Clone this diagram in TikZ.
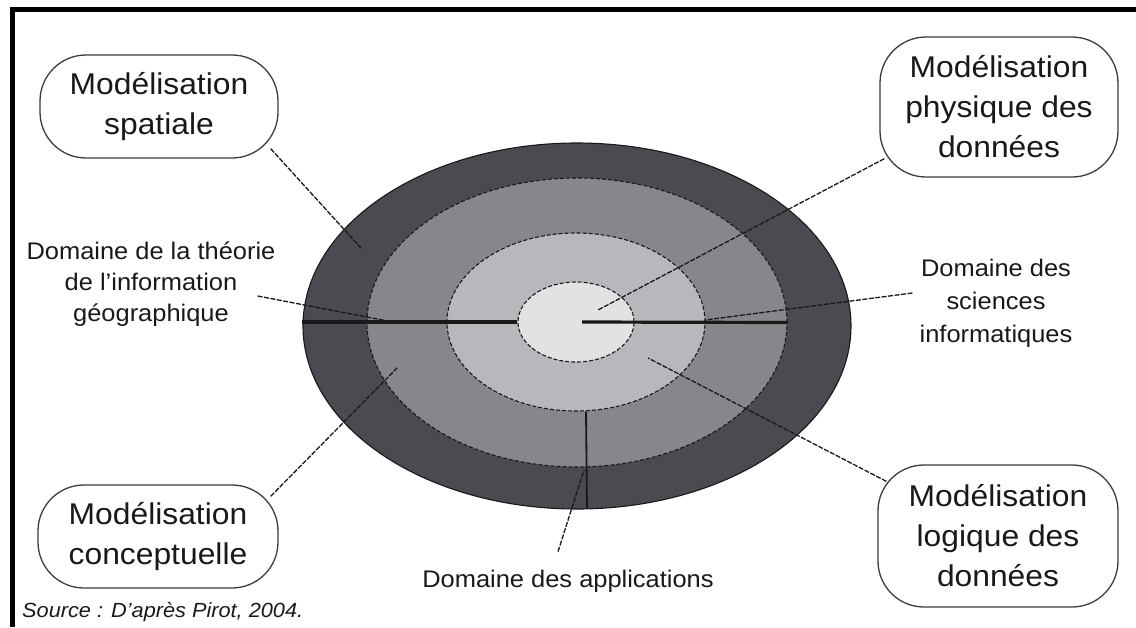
\documentclass[tikz,border=0pt]{standalone}
\usepackage{fontspec}
\setmainfont{Liberation Sans}[FakeStretch=1.06]
\usetikzlibrary{shapes.geometric,calc}
\definecolor{ringA}{RGB}{74,74,80}
\definecolor{ringB}{RGB}{134,134,139}
\definecolor{ringC}{RGB}{184,184,188}
\definecolor{ringD}{RGB}{226,226,226}
\definecolor{ink}{RGB}{25,25,25}

\begin{document}
\begin{tikzpicture}[x=1pt,y=-1pt,
  ring/.style={ellipse, inner sep=0pt, draw=ink, line width=1.1pt, dash pattern=on 4pt off 2pt},
  bubble/.style={draw=ink!85, line width=1.3pt, rounded corners=46pt, align=center,
    inner sep=0pt, text=ink, font=\fontsize{30}{40}\selectfont},
  domlabel/.style={align=center, text=ink, inner sep=2pt},
  leader/.style={draw=ink, line width=1.3pt, dash pattern=on 5pt off 1.5pt},
  axisline/.style={draw=black!90, line width=3.2pt}]

\useasboundingbox (0,0) rectangle (1136,627);
\fill[white] (0,0) rectangle (1136,627);
% frame
\draw[line width=4.5pt] (12.5,627) -- (12.5,9.5) -- (1136,9.5);

% nested domains
\node[ring, solid, fill=ringA, minimum width=548pt, minimum height=366pt] (e1) at (577,326) {};
\node[ring, fill=ringB, minimum width=420pt, minimum height=289pt] (e2) at (577,322.5) {};
\node[ring, fill=ringC, minimum width=258pt, minimum height=178pt] (e3) at (576,322) {};
\node[ring, fill=ringD, minimum width=116pt, minimum height=80pt] (e4) at (576,322) {};

% axes
\draw[axisline] (e1.west |- e4.west) -- (e4.west);
\draw[axisline] ($(e4.center)+(6,0)$) -- (e2.east);
\draw[draw=black!90, line width=1.8pt] ($(e3.south)+(10,0)$) -- ($(e1.south)+(10,-1)$);

% modelling bubbles
\node[bubble, minimum width=238pt, minimum height=103pt] (sp) at (159,106.5) {Modélisation\\spatiale};
\node[bubble, minimum width=238pt, minimum height=140pt] (ph) at (999,107) {Modélisation\\physique des\\données};
\node[bubble, minimum width=240pt, minimum height=103pt] (co) at (158,536.5) {Modélisation\\conceptuelle};
\node[bubble, minimum width=240pt, minimum height=142pt] (lo) at (998,536) {Modélisation\\logique des\\données};

% domain labels
\node[domlabel, font=\fontsize{24}{31}\selectfont] (dl) at (151,284) {Domaine de la théorie\\de l'information\\géographique};
\node[domlabel, font=\fontsize{24}{33}\selectfont] (dr) at (996,303) {Domaine des\\sciences\\informatiques};
\node[domlabel, font=\fontsize{24}{31}\selectfont] (da) at (568,581) {Domaine des applications};

\node[anchor=base west, inner sep=0pt, text=ink, font=\fontsize{20.5}{24}\selectfont\itshape] (src) at (22,617) {Source : D'après Pirot, 2004.};

% leader ends inside the rings
\coordinate (pSp) at (361,248);
\coordinate (pPh) at (598,310);
\coordinate (pDl) at (393,322);
\coordinate (pDr) at (705,320);
\coordinate (pCo) at (398,367);
\coordinate (pLo) at (648,358);
\coordinate (pAp) at (584,470);

\draw[leader] ($(sp.south east)+(-8,-10)$) -- (pSp);
\draw[leader] ($(ph.south west)+(5,-19)$) -- (pPh);
\draw[leader] ($(co.north east)+(-8,12)$) -- (pCo);
\draw[leader] ($(lo.north west)+(9,17)$) -- (pLo);
\draw[leader] ($(dl.east)+(-20,12)$) -- (pDl);
\draw[leader] ($(dr.west)+(-5,-10)$) -- (pDr);
\draw[leader] ($(da.north)+(-10,-16)$) -- (pAp);
\end{tikzpicture}
\end{document}
